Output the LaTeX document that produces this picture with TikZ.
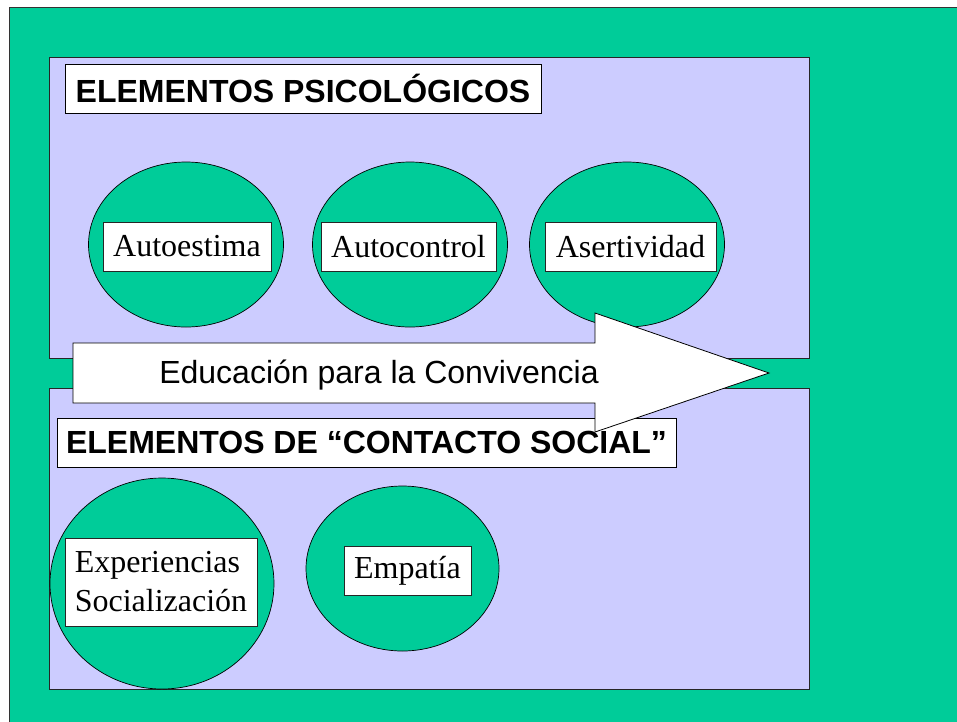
\documentclass[tikz,border=0pt]{standalone}
\usepackage{fontspec}
\setmainfont{Liberation Serif}
\newfontfamily\arialf{Liberation Sans}
\usetikzlibrary{shapes.geometric}
\definecolor{bggreen}{RGB}{0,204,153}
\definecolor{lav}{RGB}{204,204,255}
\tikzset{
  panel/.style={fill=lav, draw=black!85, line width=0.9pt},
  blob/.style={ellipse, fill=bggreen, draw=black, line width=0.7pt, inner sep=0pt},
  wordbox/.style={rectangle, fill=white, draw=black!85, line width=0.9pt, inner sep=0pt,
    font=\fontsize{32}{39}\selectfont},
  titlebox/.style={rectangle, fill=white, draw=black, line width=0.9pt, inner sep=0pt,
    font=\arialf\bfseries\fontsize{32}{38}\selectfont},
  arrowshape/.style={fill=white, draw=black, line width=0.8pt, line join=miter}
}
\begin{document}
\begin{tikzpicture}[x=1pt,y=-1pt]
\useasboundingbox (0,0) rectangle (957,721);
\fill[white] (0,0) rectangle (957,721);
\path[fill=bggreen, draw=black!80, line width=0.8pt] (9,7) rectangle (962,730);
% panels
\path[panel] (49,57) rectangle (809,358);
\path[panel] (49,388) rectangle (809,689);
% upper circles
\node[blob, minimum width=195pt, minimum height=165pt] (c1) at (186,244.5) {};
\node[blob, minimum width=195pt, minimum height=165pt] (c2) at (410,244.5) {};
\node[blob, minimum width=195pt, minimum height=165pt] (c3) at (627,244.5) {};
\node[wordbox, minimum width=168pt, minimum height=49pt] (w1) at (187,246.5) {Autoestima};
\node[wordbox, minimum width=175pt, minimum height=49pt] (w2) at (408.5,246.5) {Autocontrol};
\node[wordbox, minimum width=171pt, minimum height=49pt] (w3) at (630.5,246.5) {Asertividad};
% lower circles
\node[blob, minimum width=224pt, minimum height=211pt] (c4) at (162,583.5) {};
\node[blob, minimum width=193pt, minimum height=165pt] (c5) at (402.5,568.5) {};
\node[wordbox, minimum width=192pt, minimum height=88pt, align=left] (w4) at (161,582)
  {Experiencias\\Socialización};
\node[wordbox, minimum width=127pt, minimum height=49pt] (w5) at (407.5,570.5) {Empatía};
% titles
\node[titlebox, minimum width=476pt, minimum height=49pt] (t1) at (303,88.5) {ELEMENTOS PSICOLÓGICOS};
\node[titlebox, minimum width=619pt, minimum height=49pt] (t2) at (366.5,442.5) {ELEMENTOS DE “CONTACTO SOCIAL”};
% big arrow
\path[arrowshape] (73,343) -- (595,343) -- (595,313) -- (769,373) -- (595,432) -- (595,403) -- (73,403) -- cycle;
\node[font=\arialf\fontsize{32}{38}\selectfont, inner sep=0pt] (edu) at (379,375) {Educación para la Convivencia};
\end{tikzpicture}
\end{document}
